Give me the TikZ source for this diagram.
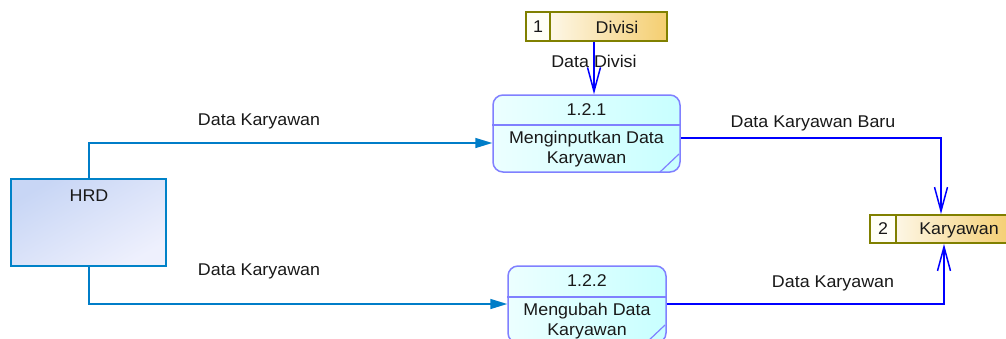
\documentclass[tikz,border=0pt]{standalone}
\usepackage{fontspec}
\setmainfont{Liberation Sans}[FakeStretch=1.05]
\usetikzlibrary{arrows.meta,positioning}
\definecolor{flowblue}{RGB}{0,0,255}
\definecolor{extflow}{RGB}{0,125,200}
\definecolor{procborder}{RGB}{128,128,255}
\definecolor{procfillA}{RGB}{236,255,255}
\definecolor{procfillB}{RGB}{200,255,255}
\definecolor{entborder}{RGB}{0,130,200}
\definecolor{entfillA}{RGB}{200,214,245}
\definecolor{entfillB}{RGB}{238,240,253}
\definecolor{storeborder}{RGB}{128,128,0}
\definecolor{storefill}{RGB}{244,206,112}
\definecolor{txt}{RGB}{25,25,25}
\tikzset{
  every node/.style={text=txt,font=\fontsize{17}{19.5}\selectfont},
  process/.style={draw=procborder,line width=1.5pt,rounded corners=10pt,
    left color=procfillA,right color=procfillB,inner sep=0pt},
  entity/.style={draw=entborder,line width=1.5pt,inner sep=0pt,
    shading=axis,top color=entfillA,bottom color=entfillB,shading angle=30},
  store/.style={draw=storeborder,line width=2pt,inner sep=0pt,
    left color=white,right color=storefill},
  cell/.style={draw=storeborder,line width=2pt,inner sep=0pt,fill=white!97!yellow},
  dataflow/.style={draw=flowblue,line width=1.5pt,-{Straight Barb[length=24pt,width=13pt,line width=1.5pt]}},
  inflow/.style={draw=extflow,line width=1.5pt,-{Triangle[length=17pt,width=10pt]}},
  lbl/.style={inner sep=1pt},
}
\begin{document}
\begin{tikzpicture}[x=1pt,y=-1pt]
\useasboundingbox (0,0) rectangle (1006,338);
\clip (0,0) rectangle (1006,338);
\fill[white] (0,0) rectangle (1006,338);

% external entity
\node[entity,minimum width=155pt,minimum height=87pt] (hrd) at (88.5,222.5) {};
\node (hrdt) at (89,196) {HRD};

% data stores
\node[store,minimum width=141pt,minimum height=29pt] (divisi) at (596.5,26.5) {};
\node[cell,minimum width=24pt,minimum height=29pt,anchor=west] (divisin) at (divisi.west) {1};
\node (divisit) at (617,27) {Divisi};

\node[store,minimum width=142pt,minimum height=28pt] (kary) at (941,229) {};
\node[cell,minimum width=26pt,minimum height=28pt,anchor=west] (karyn) at (kary.west) {2};
\node (karyt) at (959,230) {Karyawan};

% process 1.2.1
\node[process,minimum width=187pt,minimum height=77pt] (p1) at (586.5,133.5) {};
\draw[procborder,line width=1.2pt] (p1.west |- 0,125) coordinate (p1l) -- (p1.east |- 0,125) coordinate (p1r);
\draw[procborder,line width=1.2pt] (660,172) -- (679,154);
\node (p1id) at (586.5,110) {1.2.1};
\node[align=center] (p1t) at (586.5,149) {Menginputkan Data\\Karyawan};

% process 1.2.2
\node[process,minimum width=158pt,minimum height=77pt] (p2) at (587,304.5) {};
\draw[procborder,line width=1.2pt] (p2.west |- 0,297) coordinate (p2l) -- (p2.east |- 0,297) coordinate (p2r);
\draw[procborder,line width=1.2pt] (646,343) -- (665,325);
\node (p2id) at (587,281) {1.2.2};
\node[align=center] (p2t) at (587,321) {Mengubah Data\\Karyawan};

% flows
\draw[dataflow] (divisi.south -| 594,0) -- (p1.north -| 594,0);
\node[lbl] (ldiv) at (594,61) {Data Divisi};

\draw[inflow] (hrd.north -| 89,0) |- (p1.west |- 0,143);
\node[lbl] (l1) at (259,121) {Data Karyawan};

\draw[inflow] (hrd.south -| 89,0) |- (p2.west |- 0,304);
\node[lbl] (l2) at (259,271) {Data Karyawan};

\draw[dataflow] (p1.east |- 0,138) -| (kary.north -| 941,0);
\node[lbl] (l3) at (813,123) {Data Karyawan Baru};

\draw[dataflow] (p2.east |- 0,304) -| (kary.south -| 944,0);
\node[lbl] (l4) at (833,283) {Data Karyawan};
\end{tikzpicture}
\end{document}
